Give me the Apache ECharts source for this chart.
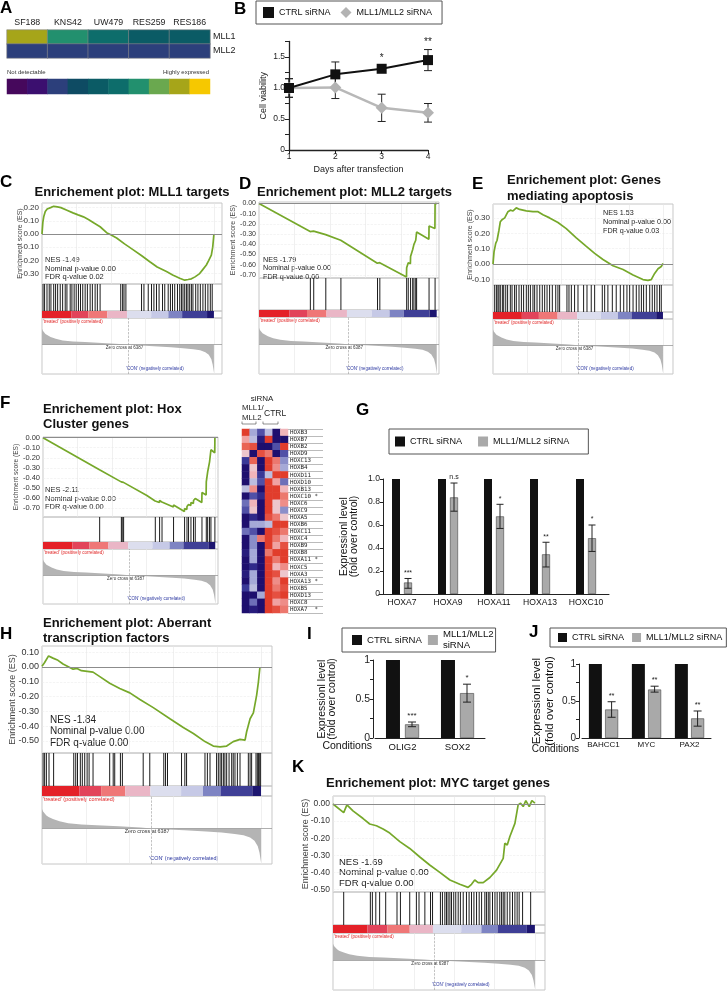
<!DOCTYPE html>
<html><head><meta charset="utf-8">
<script src="https://cdn.jsdelivr.net/npm/echarts@6/dist/echarts.min.js"></script>
<style>html,body{margin:0;padding:0;background:#fff}#c{width:728px;height:998px}</style>
</head><body><div id="c"></div>
<script>
// ================= DATA =================
// Panel A
const cellLines = ['SF188','KNS42','UW479','RES259','RES186'];
const genesA = ['MLL1','MLL2'];
const mll1Level = [8,6,5,4,4];
const mll2Level = [2,2,2,2,2];
const scaleLevels = [0,1,2,3,4,5,6,7,8,9];
// Panel B
const days = [1,2,3,4];
const ctrlViab = [1.0,1.22,1.31,1.45];
const ctrlErr  = [0.15,0.2,0.06,0.17];
const mllViab  = [1.0,1.01,0.68,0.60];
const mllErr   = [0.15,0.18,0.22,0.15];
const viabStars = ['','','*','**'];
// GSEA ranked list (shared)
const rankPos    = [0,0.5,1,2,3,5,8,12,18,25,35,45,50,55,65,75,82,88,92,95,97,98.5,99.3,100];
const rankMetric = [0.6,0.52,0.46,0.4,0.35,0.29,0.22,0.16,0.12,0.1,0.065,0.025,0,-0.025,-0.06,-0.1,-0.13,-0.17,-0.21,-0.28,-0.38,-0.55,-0.75,-1.05];
const colorBarBreaks = [0,17,27,38,49.5,63.5,73.5,81.5,96,100];
// Enrichment score curves  [rank %, ES]
const esC = [[0,0],[0.5,0.09],[1,0.13],[1.9,0.17],[3,0.19],[3.9,0.205],[5,0.2],[6.8,0.21],[9,0.205],[11,0.2],[14.5,0.18],[18,0.16],[21,0.145],[24.1,0.13],[27,0.11],[30,0.085],[33.8,0.055],[37.6,0.01],[40,-0.005],[43.4,-0.03],[48,-0.075],[53.1,-0.12],[58,-0.165],[62.7,-0.21],[67,-0.25],[72.4,-0.285],[76,-0.31],[80.1,-0.335],[83,-0.35],[85,-0.345],[86.9,-0.34],[89,-0.325],[91.7,-0.3],[93.5,-0.27],[95.6,-0.235],[97,-0.2],[98.5,-0.16],[99.3,-0.1],[100,0]];
const esD = [[0,0],[28.8,-0.275],[28.9,-0.26],[30.7,-0.27],[30.8,-0.255],[37.5,-0.305],[37.6,-0.295],[46.0,-0.36],[46.1,-0.35],[66.6,-0.585],[66.7,-0.57],[67.9,-0.58],[68.0,-0.565],[83.0,-0.72],[83.1,-0.63],[83.9,-0.64],[84.0,-0.58],[85.2,-0.59],[85.3,-0.52],[86.4,-0.53],[86.5,-0.45],[87.1,-0.46],[87.2,-0.40],[88.1,-0.41],[88.2,-0.36],[88.6,-0.365],[88.7,-0.28],[95.6,-0.35],[95.7,-0.22],[99.0,-0.245],[99.1,0],[100,0]];
const esE = [[0,0],[0.6,0.08],[1.6,0.135],[2.4,0.155],[3.5,0.22],[4.3,0.275],[5.5,0.29],[6.9,0.3],[8.8,0.34],[10.2,0.35],[11.8,0.345],[13.7,0.365],[15.7,0.355],[19.6,0.345],[23.5,0.34],[26.5,0.34],[29.4,0.32],[33.3,0.3],[38.2,0.27],[43.1,0.23],[49,0.17],[54.9,0.115],[59.8,0.07],[64.7,0.03],[70.6,-0.01],[76.5,-0.035],[82.4,-0.07],[88.2,-0.1],[91.2,-0.105],[93.1,-0.1],[95.1,-0.06],[97.1,-0.03],[99,-0.015],[100,0.005]];
const esF = [[0,0],[32.8,-0.32],[32.9,-0.31],[45.4,-0.44],[45.5,-0.435],[46.7,-0.445],[46.8,-0.44],[60.3,-0.575],[65.1,-0.63],[65.2,-0.62],[67.6,-0.645],[67.7,-0.625],[69.0,-0.64],[69.1,-0.625],[75.7,-0.69],[75.8,-0.67],[82.1,-0.735],[82.2,-0.705],[83.5,-0.715],[83.6,-0.685],[84.4,-0.695],[84.5,-0.665],[85.8,-0.675],[85.9,-0.645],[87.3,-0.655],[87.4,-0.625],[88.3,-0.635],[88.4,-0.605],[92.2,-0.645],[92.3,-0.545],[94.7,-0.57],[94.8,-0.44],[95.5,-0.45],[95.6,-0.34],[96.6,-0.35],[96.7,-0.24],[97.4,-0.245],[97.5,-0.12],[99.7,-0.15],[99.8,0],[100,0]];
const esH = [[0,0.005],[1.2,0.03],[3.0,0.075],[3.5,0.068],[5.0,0.06],[7.3,0.045],[9.6,0.02],[14.2,-0.015],[16.0,-0.01],[18.0,-0.025],[23.3,-0.035],[26.4,-0.065],[30.9,-0.11],[35.5,-0.145],[40.1,-0.175],[44.7,-0.22],[50.8,-0.275],[58.4,-0.35],[64.5,-0.41],[69.1,-0.45],[74.4,-0.505],[78.2,-0.535],[81.3,-0.54],[84.3,-0.535],[87.3,-0.505],[90.4,-0.49],[92.7,-0.495],[93.4,-0.44],[95.0,-0.35],[96.5,-0.31],[98.0,-0.19],[98.8,-0.1],[99.5,0.0]];
const esK = [[0,0],[5.3,-0.05],[6.9,-0.005],[9.9,-0.04],[14.9,-0.085],[18.2,-0.117],[21.5,-0.127],[24.8,-0.146],[28.1,-0.17],[33.1,-0.22],[38.0,-0.26],[43.0,-0.31],[47.9,-0.357],[52.9,-0.4],[57.9,-0.445],[62.8,-0.47],[66.9,-0.488],[68.6,-0.47],[70.2,-0.445],[71.9,-0.46],[74.4,-0.46],[77.7,-0.43],[81.0,-0.387],[84.3,-0.318],[85.1,-0.23],[86.3,-0.24],[87.6,-0.19],[90.1,-0.113],[91.7,-0.005],[92.9,0.005],[94.2,-0.015],[95.5,0.02],[97.2,-0.015],[98.5,0.02],[100,0.005]];
// Gene-set hit positions (rank %)
const hitsC = [0.6,1.5,2.9,4.2,5.2,6.8,7.9,9.1,10.6,12.0,13.5,14.5,16.4,17.4,18.7,19.9,21.2,22.4,23.7,25.1,26.4,28.0,29.3,30.9,32.2,33.8,45.8,46.9,47.7,48.8,57.9,59.3,61.8,63.7,65.1,66.6,68.1,70.1,71.4,73.4,74.7,75.9,77.2,78.8,80.1,81.1,82.0,83.0,84.0,84.9,85.9,86.9,87.8,89.4,90.7,92.1,93.6,95.0,96.5,97.9,99.0];
const hitsD = [28.9,30.8,37.6,46.1,66.7,68.0,83.1,84.0,85.3,86.5,87.2,88.2,88.7,95.7,99.1];
const hitsE = [1.0,2.0,2.9,3.5,4.3,5.5,6.3,7.5,8.6,10.2,11.2,12.7,13.7,15.3,16.7,18.0,19.6,20.8,22.0,23.5,24.5,25.9,27.5,29.0,30.4,31.8,33.3,34.9,36.9,38.2,39.2,43.5,44.7,46.1,48.0,50.0,53.3,55.3,57.8,59.8,64.3,65.7,67.6,70.2,72.5,74.9,76.9,78.8,80.4,82.4,84.3,85.9,87.3,88.6,90.2,92.2,93.7,95.1,96.5,98.0,99.0];
const hitsF = [32.9,45.5,46.0,46.8,65.2,67.7,69.1,75.8,82.2,83.6,84.5,85.9,87.4,88.4,92.3,94.8,95.6,96.7,97.5,99.8];
const hitsH = [0.5,1.2,2.0,3.2,5.3,14.5,15.4,16.2,17.5,18.4,19.5,20.6,21.5,23.3,30.9,32.5,33.2,35.8,36.7,46.2,49.2,55.6,56.4,57.3,63.7,65.2,66.0,74.4,75.5,76.7,79.7,80.5,81.3,82.0,82.8,83.5,84.3,85.4,86.6,87.3,88.1,89.2,90.4,94.2,95.0,95.7,97.7,98.3,98.8,99.2,99.8];
const hitsK = [5.3,18.5,19.5,21.2,23.1,26.1,31.7,33.4,38.0,41.3,42.6,45.5,48.3,49.3,53.2,54.2,55.4,56.2,57.0,57.9,58.7,59.8,60.8,62.0,63.1,64.5,66.1,67.4,68.6,69.8,71.1,72.4,73.6,75.2,76.0,76.9,77.7,79.0,80.2,81.3,82.6,83.5,84.3,85.1,86.3,87.6,88.9,90.1,91.2,92.2,93.9,97.9];
// Panel F heatmap
const hoxGenes = ['HOXB3','HOXB7','HOXB2','HOXD9','HOXC13','HOXB4','HOXD11','HOXD10','HOXB13','HOXC10','HOXC6','HOXC9','HOXA5','HOXB6','HOXC11','HOXC4','HOXB9','HOXB8','HOXA11','HOXC5','HOXA3','HOXA13','HOXB5','HOXD13','HOXC8','HOXA7'];
const hoxStar = ['HOXC10','HOXA11','HOXA13','HOXA7'];
const hoxSamples = ['MLL1/MLL2 a','MLL1/MLL2 b','MLL1/MLL2 c','CTRL a','CTRL b','CTRL c'];
const hoxMatrix = [
 [0.9,-0.3,-0.6,-0.2,-1,0.3],[0.4,-0.2,-0.9,0.9,-1,-1],[0.7,0.8,-1,-1,-0.6,0.9],[0.2,-1,0.8,0.6,-1,-0.6],
 [-0.7,0.7,-1,0.9,0.6,-0.4],[-1,0.2,-1,0.9,0.5,-0.3],[-1,0.3,-0.7,-0.2,0.9,0.9],[-1,-0.2,-0.6,0.9,0.4,-0.5],
 [-0.2,0.5,-1,0.9,0.9,0.3],[-1,-0.6,-0.8,0.9,0.9,0.6],[-0.5,0.3,-1,0.9,0.2,0.5],[-0.6,0.2,-1,0.9,0.2,-0.4],
 [-1,-0.8,-1,0.8,0.6,0.2],[-1,-0.3,-0.3,-0.2,0.9,0.9],[-0.5,-0.6,-1,0.9,0.8,0.6],[-1,-0.4,0.6,0.9,0.6,0.3],
 [-1,-0.4,-1,0.9,0.4,0.8],[-0.9,-0.3,-1,0.6,0.9,0.9],[-1,-0.3,-1,0.9,0.6,0.9],[-1,-0.8,-1,0.9,0.3,0.5],
 [-0.9,-0.3,-1,0.9,0.8,0.2],[-1,-0.3,-1,0.9,0.5,0.9],[-0.7,-0.2,-1,0.9,0.6,0.8],[-1,-1,-0.3,0.9,0.8,0.9],
 [-1,-0.5,-1,0.9,0.4,0.5],[-1,-0.9,-1,0.9,0.8,0.6]];
// Panel G
const gCats = ['HOXA7','HOXA9','HOXA11','HOXA13','HOXC10'];
const gCtrl = [1,1,1,1,1];
const gMll  = [0.10,0.84,0.675,0.345,0.485];
const gLo   = [0.05,0.72,0.57,0.235,0.37];
const gHi   = [0.135,0.965,0.78,0.45,0.60];
const gStars = ['***','n.s','*','**','*'];
// Panel I
const iCats = ['OLIG2','SOX2'];
const iCtrl = [1,1];
const iMll  = [0.175,0.575];
const iLo   = [0.145,0.46];
const iHi   = [0.205,0.69];
const iStars = ['***','*'];
// Panel J
const jCats = ['BAHCC1','MYC','PAX2'];
const jCtrl = [1,1,1];
const jMll  = [0.385,0.655,0.265];
const jLo   = [0.28,0.62,0.16];
const jHi   = [0.49,0.70,0.365];
const jStars = ['**','**','**'];

// ================= STYLE =================
const FONT = "'Liberation Sans', Arial, Helvetica, sans-serif";
const viridis = ['#46085c','#3b0f6f','#2c3f7b','#0e4b63','#0b5b65','#0d6d6b','#22906e','#6aa84f','#a6a519','#f6c800'];
const colorBarColors = ['#e42128','#e2445a','#ef7777','#eab6c6','#dcdeee','#c6c9e6','#7e84c3','#3f3f96','#1d1670'];
const GREEN = '#76a82a';
const DARK = '#111';
const GREY = '#a9a9a9';

const opt = {animation:false, backgroundColor:'#fff', textStyle:{fontFamily:FONT},
  grid:[], xAxis:[], yAxis:[], series:[], graphic:[], legend:[], visualMap:[]};

function addGrid(box, xa, ya){
  opt.grid.push(Object.assign({containLabel:false}, box));
  const gi = opt.grid.length-1;
  opt.xAxis.push(Object.assign({gridIndex:gi, nameMoveOverlap:false}, xa));
  opt.yAxis.push(Object.assign({gridIndex:gi, nameMoveOverlap:false}, ya));
  return gi;
}
function text(x, y, s, st, extra){
  opt.graphic.push(Object.assign({type:'text', x:x, y:y, silent:true,
    style:Object.assign({text:s, fill:DARK, fontFamily:FONT, fontSize:10, align:'left', verticalAlign:'middle'}, st)}, extra||{}));
}
function letter(ch, x, y){ text(x, y, ch, {fontSize:17, fontWeight:'bold', fill:'#000'}); }

// ================= PANEL A =================
letter('A', 0, 8);
const gA = addGrid({left:7, top:30, width:203, height:28},
  {type:'category', data:cellLines, position:'top', axisLine:{show:false}, axisTick:{show:false},
   axisLabel:{fontSize:8.8, color:'#222', margin:3, interval:0}, splitLine:{show:false}},
  {type:'category', data:genesA, inverse:true, position:'right', axisLine:{show:false}, axisTick:{show:false},
   axisLabel:{fontSize:9, color:'#222', margin:3, interval:0}});
const heatA = [];
cellLines.forEach((c,i)=>{
  heatA.push({value:[i,0,mll1Level[i]], itemStyle:{color:viridis[mll1Level[i]]}});
  heatA.push({value:[i,1,mll2Level[i]], itemStyle:{color:viridis[mll2Level[i]]}});
});
opt.series.push({type:'heatmap', xAxisIndex:gA, yAxisIndex:gA, data:heatA, silent:true,
  itemStyle:{borderColor:'#8a8a8a', borderWidth:0.6}});
const gA2 = addGrid({left:7, top:79, width:203, height:15},
  {type:'category', data:scaleLevels, show:false}, {type:'category', data:['scale'], show:false});
opt.series.push({type:'heatmap', xAxisIndex:gA2, yAxisIndex:gA2, silent:true,
  data:scaleLevels.map(l=>({value:[l,0,l], itemStyle:{color:viridis[l]}}))});
text(7, 72, 'Not detectable', {fontSize:6, fill:'#333'});
text(209, 72, 'Highly expressed', {fontSize:6, fill:'#333', align:'right'});

// ================= PANEL B =================
letter('B', 234, 9);
const gB = addGrid({left:289, top:41.5, width:139, height:108.5},
  {type:'value', min:1, max:4, interval:1, axisLine:{lineStyle:{color:'#222', width:1.3}},
   axisTick:{length:4, lineStyle:{color:'#222'}}, axisLabel:{fontSize:8.5, color:'#222', margin:2},
   splitLine:{show:false}, name:'Days after transfection', nameLocation:'middle', nameGap:15,
   nameTextStyle:{fontSize:9, color:'#222'}},
  {type:'value', min:0, max:1.75, interval:0.25, axisLine:{show:true, lineStyle:{color:'#222', width:1.3}},
   axisTick:{show:true, length:4, lineStyle:{color:'#222'}},
   axisLabel:{fontSize:8.5, color:'#222', margin:4, formatter:v=> v===0?'0':(Math.abs(v*2-Math.round(v*2))<1e-9? v.toFixed(1):'')},
   splitLine:{show:false}, name:'Cell viability', nameLocation:'middle', nameGap:21,
   nameTextStyle:{fontSize:9, color:'#222'}});
function errSeries(gi, n, lo, hi, stars, off, cap, starSize, color){
  const d = []; for (let i=0;i<n.length;i++) d.push([n[i], lo[i], hi[i]]);
  return {type:'custom', xAxisIndex:gi, yAxisIndex:gi, z:5, silent:true, data:d,
    renderItem:function(params, api){
      const pLo = api.coord([api.value(0), api.value(1)]);
      const pHi = api.coord([api.value(0), api.value(2)]);
      const x = pLo[0] + off;
      const st = {stroke:color||'#222', lineWidth:1};
      const ch = [
        {type:'line', shape:{x1:x,y1:pLo[1],x2:x,y2:pHi[1]}, style:st},
        {type:'line', shape:{x1:x-cap,y1:pHi[1],x2:x+cap,y2:pHi[1]}, style:st},
        {type:'line', shape:{x1:x-cap,y1:pLo[1],x2:x+cap,y2:pLo[1]}, style:st}];
      const s = stars ? stars[params.dataIndex] : '';
      if (s) ch.push({type:'text', x:x, y:pHi[1]-2, style:{text:s, fill:'#222', fontSize:starSize, fontFamily:FONT, align:'center', verticalAlign:'bottom'}});
      return {type:'group', children:ch};
    }};
}
opt.series.push(errSeries(gB, days, mllViab.map((v,i)=>v-mllErr[i]), mllViab.map((v,i)=>v+mllErr[i]), null, 0, 4, 10));
opt.series.push(errSeries(gB, days, ctrlViab.map((v,i)=>v-ctrlErr[i]), ctrlViab.map((v,i)=>v+ctrlErr[i]), viabStars, 0, 4, 10));
opt.series.push({type:'line', name:'MLL1/MLL2 siRNA', xAxisIndex:gB, yAxisIndex:gB, z:6,
  data:days.map((d,i)=>[d, mllViab[i]]), symbol:'diamond', symbolSize:12,
  itemStyle:{color:'#b3b3b3'}, lineStyle:{color:'#b8b8b8', width:2.5}});
opt.series.push({type:'line', name:'CTRL siRNA', xAxisIndex:gB, yAxisIndex:gB, z:7,
  data:days.map((d,i)=>[d, ctrlViab[i]]), symbol:'rect', symbolSize:10,
  itemStyle:{color:DARK}, lineStyle:{color:DARK, width:2}});
opt.legend.push({left:256, top:1, orient:'horizontal', padding:[6,10,6,7], itemWidth:11, itemHeight:11, itemGap:10,
  borderColor:'#555', borderWidth:1, selectedMode:false, textStyle:{fontSize:9, color:'#111', fontFamily:FONT},
  data:[{name:'CTRL siRNA', icon:'rect', itemStyle:{color:DARK}}, {name:'MLL1/MLL2 siRNA', icon:'diamond', itemStyle:{color:'#b3b3b3'}}]});

// ================= GSEA PANELS =================
function buildGsea(p){
  const W = p.R - p.L;
  const Wc = W*100/p.xMax;
  const border = {show:true, borderColor:'#c6c6c6', borderWidth:1, backgroundColor:'transparent'};
  const xA = (split)=>({type:'value', min:0, max:p.xMax, interval:20, axisLine:{show:false}, axisTick:{show:false},
     axisLabel:{show:false}, splitLine:{show:split, lineStyle:{color:'#e6e6e6', width:0.6}}});
  const g1 = addGrid(Object.assign({left:p.L, top:p.T, width:W, height:p.esB-p.T}, border), xA(true),
    {type:'value', min:p.yMin, max:p.yMax, axisLine:{show:false}, axisTick:{show:false, customValues:p.ticks},
     axisLabel:{customValues:p.ticks, formatter:v=>v.toFixed(2), fontSize:p.tickFont, color:'#333', margin:3},
     splitLine:{show:true, lineStyle:{color:'#ececec', width:0.6, type:'dashed'}},
     name:'Enrichment score (ES)', nameLocation:'middle', nameRotate:90, nameGap:p.nameGap,
     nameTextStyle:{fontSize:p.nameSize, color:'#444'}});
  opt.series.push({type:'line', xAxisIndex:g1, yAxisIndex:g1, data:p.curve, showSymbol:false, symbol:'none', silent:true, z:4,
    lineStyle:{color:GREEN, width:1.7},
    markLine:{silent:true, symbol:'none', label:{show:false}, lineStyle:{color:'#8c8c8c', width:1, type:'solid'}, data:[{yAxis:0}]}});
  const g2 = addGrid(Object.assign({left:p.L, top:p.esB, width:W, height:p.cbT-p.esB}, border), xA(false),
    {type:'value', min:0, max:1, show:false});
  opt.series.push({type:'custom', xAxisIndex:g2, yAxisIndex:g2, silent:true, data:p.hits.map(h=>[h,0.5]),
    renderItem:function(params, api){
      const x = api.coord([api.value(0),0.5])[0]; const cs = params.coordSys;
      return {type:'line', shape:{x1:x,y1:cs.y,x2:x,y2:cs.y+cs.height}, style:{stroke:'#1c1c1c', lineWidth:1}};
    }});
  const g3 = addGrid(Object.assign({left:p.L, top:p.cbT, width:W, height:p.cbB-p.cbT}, border), xA(false),
    {type:'value', min:0, max:1, show:false});
  opt.series.push({type:'custom', xAxisIndex:g3, yAxisIndex:g3, silent:true,
    data:colorBarColors.map((c,i)=>[colorBarBreaks[i], 0.5, colorBarBreaks[i+1], i]),
    renderItem:function(params, api){
      const x0 = api.coord([api.value(0),0.5])[0], x1 = api.coord([api.value(2),0.5])[0]; const cs = params.coordSys;
      return {type:'rect', shape:{x:x0, y:cs.y, width:x1-x0, height:cs.height}, style:{fill:colorBarColors[api.value(3)]}};
    }});
  const g4 = addGrid(Object.assign({left:p.L, top:p.cbB, width:W, height:p.B-p.cbB}, border), xA(true),
    {type:'value', min:-1.1, max:1.0, show:false});
  opt.series.push({type:'line', xAxisIndex:g4, yAxisIndex:g4, silent:true, showSymbol:false, symbol:'none',
    data:rankPos.map((x,i)=>[x, rankMetric[i]]), lineStyle:{width:0}, areaStyle:{color:'#b4b4b4', opacity:1},
    markLine:{silent:true, symbol:'none', label:{show:false},
      data:[{yAxis:0, lineStyle:{color:'#9a9a9a', width:0.8, type:'solid'}}, {xAxis:50, lineStyle:{color:'#9a9a9a', width:0.6, type:'dashed'}}]}});
  // texts
  const zeroY = p.cbB + (p.B-p.cbB)*(1.0/2.1);
  text(p.L+1, p.cbB+1, "'treated' (positively correlated)", {fontSize:p.small, fill:'#e02424', verticalAlign:'top'});
  text(p.L+0.48*Wc, zeroY+1, 'Zero cross at 6387', {fontSize:p.small, fill:'#333', align:'center', verticalAlign:'top'});
  text(p.L+0.49*Wc, p.B-5, "'CON' (negatively correlated)", {fontSize:p.small, fill:'#2a36a0'});
  const t = p.title;
  text(t.x, t.y, t.text, {fontSize:t.size, fontWeight:'bold', fill:'#111', align:t.align, lineHeight:t.lh||t.size, verticalAlign:'middle'});
  const s = p.stats;
  text(s.x, s.y - s.lh/2, s.text, {fontSize:s.size, fill:'#222', lineHeight:s.lh, verticalAlign:'top'});
  letter(p.letter, p.lx, p.ly);
}

const gseaPanels = [
 {letter:'C', lx:0, ly:182, L:42, R:222, T:203, esB:284, cbT:311, cbB:318, B:374, yMin:-0.379, yMax:0.235,
  ticks:[0.2,0.1,0,-0.1,-0.2,-0.3], tickFont:8, xMax:104.7, curve:esC, hits:hitsC, nameGap:18.5, nameSize:7, small:4.5,
  title:{text:'Enrichement plot: MLL1 targets', x:132, y:192, size:13, align:'center'},
  stats:{x:45, y:260, lh:8.5, size:7.5, text:'NES -1.49\nNominal p-value 0.00\nFDR q-value 0.02'}},
 {letter:'D', lx:239, ly:184, L:259, R:439, T:202, esB:278, cbT:310, cbB:317, B:374, yMin:-0.73, yMax:0.015,
  ticks:[0,-0.1,-0.2,-0.3,-0.4,-0.5,-0.6,-0.7], tickFont:7, xMax:101.3, curve:esD, hits:hitsD, nameGap:22.5, nameSize:7, small:4.5,
  title:{text:'Enrichement plot: MLL2 targets', x:354.5, y:192, size:13, align:'center'},
  stats:{x:263, y:260, lh:8.3, size:7.2, text:'NES -1.79\nNominal p-value 0.00\nFDR q-value 0.00'}},
 {letter:'E', lx:472, ly:184, L:493, R:673, T:204, esB:285, cbT:312, cbB:319, B:374, yMin:-0.135, yMax:0.39,
  ticks:[0.3,0.2,0.1,0,-0.1], tickFont:8, xMax:105.9, curve:esE, hits:hitsE, nameGap:19.5, nameSize:7, small:4.5,
  title:{text:'Enrichement plot: Genes\nmediating apoptosis', x:507, y:188, size:13, lh:16, align:'left'},
  stats:{x:603, y:213, lh:9, size:7.2, text:'NES 1.53\nNominal p-value 0.00\nFDR q-value 0.03'}},
 {letter:'F', lx:0, ly:403, L:43, R:218, T:437, esB:517, cbT:542, cbB:549, B:604, yMin:-0.79, yMax:0.007,
  ticks:[0,-0.1,-0.2,-0.3,-0.4,-0.5,-0.6,-0.7], tickFont:7.5, xMax:101.6, curve:esF, hits:hitsF, nameGap:23, nameSize:6.6, small:4.5,
  title:{text:'Enrichement plot: Hox\nCluster genes', x:43, y:416.5, size:13, lh:15, align:'left'},
  stats:{x:45, y:490, lh:8.5, size:7.5, text:'NES -2.11\nNominal p-value 0.00\nFDR q-value 0.00'}},
 {letter:'H', lx:0, ly:634, L:42, R:272, T:646, esB:753, cbT:786, cbB:796, B:864, yMin:-0.582, yMax:0.142,
  ticks:[0.1,0,-0.1,-0.2,-0.3,-0.4,-0.5], tickFont:9, xMax:105.0, curve:esH, hits:hitsH, nameGap:24.5, nameSize:9, small:5.4,
  title:{text:'Enrichement plot: Aberrant\ntranscription factors', x:43, y:630.5, size:13, lh:15, align:'left'},
  stats:{x:50, y:720, lh:11.5, size:10, text:'NES -1.84\nNominal p-value 0.00\nFDR q-value 0.00'}},
 {letter:'K', lx:292, ly:767, L:333, R:545, T:796, esB:892, cbT:925, cbB:933, B:990, yMin:-0.515, yMax:0.047,
  ticks:[0,-0.1,-0.2,-0.3,-0.4,-0.5], tickFont:8.5, xMax:105.0, curve:esK, hits:hitsK, nameGap:22.5, nameSize:9, small:4.5,
  title:{text:'Enrichement plot: MYC target genes', x:438, y:783, size:13, align:'center'},
  stats:{x:339, y:862, lh:10.5, size:9.5, text:'NES -1.69\nNominal p-value 0.00\nFDR q-value 0.00'}}
];
gseaPanels.forEach(buildGsea);

// ================= PANEL F heatmap =================
const gF = addGrid({left:242, top:429, width:46, height:184},
  {type:'category', data:hoxSamples, show:false}, {type:'category', data:hoxGenes, inverse:true, show:false});
const heatF = [];
hoxMatrix.forEach((row,r)=>row.forEach((v,c)=>heatF.push([c,r,v])));
opt.series.push({type:'heatmap', xAxisIndex:gF, yAxisIndex:gF, data:heatF, silent:true});
const heatFIndex = opt.series.length-1;
opt.visualMap.push({type:'continuous', show:false, min:-1, max:1, dimension:2, seriesIndex:heatFIndex,
  inRange:{color:['#1e0f6e','#3c3c9c','#9ea2d4','#e6e6f0','#f2b0b4','#ea6a5c','#dd2a18']}});
const gFL = addGrid({left:288, top:429, width:35, height:184},
  {type:'value', min:0, max:1, show:false},
  {type:'category', data:hoxGenes, inverse:true, position:'left', axisLine:{show:false}, axisTick:{show:false},
   axisLabel:{inside:true, margin:2, interval:0, fontSize:5.8, color:'#222', fontFamily:"'DejaVu Sans Mono', monospace",
     formatter:g=> hoxStar.indexOf(g)>=0 ? (g+'        ').slice(0,7)+'*' : g},
   splitLine:{show:true, interval:0, lineStyle:{color:'#777', width:0.5}}});
opt.series.push({type:'scatter', xAxisIndex:gFL, yAxisIndex:gFL, data:[], silent:true});
text(262, 399, 'siRNA', {fontSize:8, fill:'#222', align:'center'});
text(242, 408, 'MLL1/', {fontSize:7.8, fill:'#222'});
text(242, 418, 'MLL2', {fontSize:7.8, fill:'#222'});
text(264, 414, 'CTRL', {fontSize:8.5, fill:'#222'});
opt.graphic.push({type:'polyline', silent:true, shape:{points:[[242,421.5],[242,424],[256,424],[256,421.5]]}, style:{stroke:'#444', lineWidth:0.6, fill:null}});
opt.graphic.push({type:'polyline', silent:true, shape:{points:[[263,421.5],[263,424],[278,424],[278,421.5]]}, style:{stroke:'#444', lineWidth:0.6, fill:null}});

// ================= PANEL G =================
letter('G', 356, 410);
function barChart(box, cats, ctrl, mll, lo, hi, stars, cfg){
  const gi = addGrid(box,
    {type:'category', data:cats, axisLine:{lineStyle:{color:'#222', width:1}}, axisTick:{show:false},
     axisLabel:{fontSize:cfg.catFont, color:'#111', margin:cfg.catMargin, interval:0}},
    {type:'value', min:0, max:1, interval:cfg.interval, offset:cfg.yOffset,
     axisLine:{show:true, lineStyle:{color:'#222', width:1}}, axisTick:{show:true, length:3, lineStyle:{color:'#222'}},
     axisLabel:{fontSize:cfg.tickFont, color:'#222', margin:3, formatter:cfg.fmt}, splitLine:{show:false},
     name:'Expressionl level\n(fold over control)', nameLocation:'middle', nameRotate:90, nameGap:cfg.nameGap,
     nameTextStyle:{fontSize:cfg.nameFont, lineHeight:cfg.nameLh, color:'#111', align:'center'}});
  opt.series.push({type:'bar', name:'CTRL siRNA', xAxisIndex:gi, yAxisIndex:gi, data:ctrl, barWidth:cfg.bw, barGap:cfg.gap,
    itemStyle:{color:DARK}, silent:true});
  opt.series.push({type:'bar', name:'MLL1/MLL2 siRNA', xAxisIndex:gi, yAxisIndex:gi, data:mll, barWidth:cfg.bw, barGap:cfg.gap,
    itemStyle:{color:GREY, borderColor:'#444', borderWidth:0.6}, silent:true});
  opt.series.push(errSeries(gi, cats.map((c,i)=>i), lo, hi, stars, cfg.off, cfg.cap, cfg.starFont));
  return gi;
}
barChart({left:379, top:479, width:230, height:115}, gCats, gCtrl, gMll, gLo, gHi, gStars,
  {catFont:8.6, catMargin:4, interval:0.2, yOffset:-4, tickFont:8.6, fmt:v=>v===0?'0':v.toFixed(1), nameGap:24.5,
   nameFont:10.5, nameLh:9.5, bw:8, gap:'50%', off:6, cap:3.5, starFont:7});
opt.legend.push({left:389, top:429, orient:'horizontal', padding:[7.5,19,7.5,6], itemWidth:10, itemHeight:10, itemGap:16,
  borderColor:'#555', borderWidth:1, selectedMode:false, textStyle:{fontSize:9.1, color:'#111', fontFamily:FONT},
  data:[{name:'CTRL siRNA', icon:'rect', itemStyle:{color:DARK}}, {name:'MLL1/MLL2 siRNA', icon:'rect', itemStyle:{color:GREY}}]});

// ================= PANEL I =================
letter('I', 307, 634);
const halfFmt = v=> v===0?'0':(v===0.5?'0.5':(v===1?'1':''));
barChart({left:375, top:660, width:110, height:78}, iCats, iCtrl, iMll, iLo, iHi, iStars,
  {catFont:9.5, catMargin:4, interval:0.25, yOffset:2, tickFont:10.5, fmt:halfFmt, nameGap:36,
   nameFont:10.5, nameLh:10, bw:14, gap:'36%', off:9.5, cap:4, starFont:8});
text(372, 746, 'Conditions', {fontSize:10.5, fill:'#111', align:'right'});
opt.legend.push({left:342, top:628, orient:'horizontal', padding:[1,2,1,10], itemWidth:10, itemHeight:10, itemGap:6,
  borderColor:'#555', borderWidth:1, selectedMode:false, textStyle:{fontSize:9.6, lineHeight:11, color:'#111', fontFamily:FONT},
  formatter:n=> n==='MLL1/MLL2 siRNA' ? 'MLL1/MLL2\nsiRNA' : n,
  data:[{name:'CTRL siRNA', icon:'rect', itemStyle:{color:DARK}}, {name:'MLL1/MLL2 siRNA', icon:'rect', itemStyle:{color:GREY}}]});

// ================= PANEL J =================
letter('J', 529, 632);
barChart({left:582, top:664, width:129, height:74}, jCats, jCtrl, jMll, jLo, jHi, jStars,
  {catFont:8, catMargin:3, interval:0.25, yOffset:3, tickFont:10, fmt:halfFmt, nameGap:23,
   nameFont:11.5, nameLh:13, bw:13, gap:'25%', off:8.1, cap:4, starFont:7.5});
text(579, 749, 'Conditions', {fontSize:10, fill:'#111', align:'right'});
opt.legend.push({left:550, top:628, orient:'horizontal', padding:[5,4,5,8], itemWidth:9, itemHeight:9, itemGap:8,
  borderColor:'#555', borderWidth:1, selectedMode:false, textStyle:{fontSize:9.1, color:'#111', fontFamily:FONT},
  data:[{name:'CTRL siRNA', icon:'rect', itemStyle:{color:DARK}}, {name:'MLL1/MLL2 siRNA', icon:'rect', itemStyle:{color:GREY}}]});

const chart = echarts.init(document.getElementById('c'), null, {renderer:'canvas', width:728, height:998});
chart.setOption(opt);
</script>
</body></html>
